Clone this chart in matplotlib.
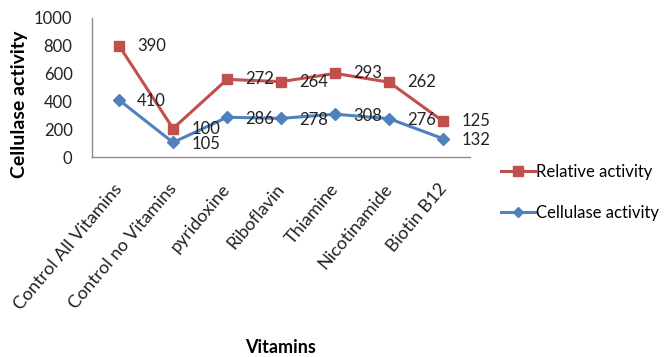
import numpy as np
import matplotlib.pyplot as plt
import matplotlib.transforms as mtransforms

# Vitamin treatments and measured activities
vitaminas = ['Control All Vitamins', 'Control no Vitamins', 'pyridoxine',
             'Riboflavin', 'Thiamine', 'Nicotinamide', 'Biotin B12']
cellulase = [410, 105, 286, 278, 308, 276, 132]
relativa = [390, 100, 272, 264, 293, 262, 125]

plt.rcParams['font.family'] = ['Lato', 'DejaVu Sans']

fig = plt.figure(figsize=(6.64, 3.57), dpi=100)
ax = fig.add_axes([0.1386, 0.560, 0.5694, 0.390])

x = np.arange(len(vitaminas))
# Stacked line chart: relative activity sits on top of cellulase activity
apilada = np.array(cellulase) + np.array(relativa)

rojo = '#C0504D'
azul = '#4F81BD'

ax.plot(x, apilada, color=rojo, lw=2.2, marker='s', ms=7.5, label='Relative activity')
ax.plot(x, cellulase, color=azul, lw=2.2, marker='D', ms=6, label='Cellulase activity')

# Value labels to the right of each point
for xi, yi, v in zip(x, apilada, relativa):
    ax.annotate(str(v), (xi, yi), xytext=(13, 0), textcoords='offset points',
                va='center', ha='left', fontsize=12, color='#222222')
for xi, yi, v in zip(x, cellulase, cellulase):
    ax.annotate(str(v), (xi, yi), xytext=(13, -1), textcoords='offset points',
                va='center', ha='left', fontsize=12, color='#222222')

ax.set_xlim(-0.5, len(vitaminas) - 0.5)
ax.set_ylim(0, 1000)
ax.set_yticks(range(0, 1001, 200))
ax.set_xticks(x)
ax.set_xticklabels(vitaminas, rotation=50, ha='right', rotation_mode='anchor',
                   fontsize=13)
ax.tick_params(axis='both', length=0, colors='#222222')
ax.tick_params(axis='y', labelsize=12, pad=14)
ax.tick_params(axis='x', pad=17)

# nudge the slanted category names a little to the left
desplazo = mtransforms.ScaledTranslation(-4 / 72, 0, fig.dpi_scale_trans)
for etiqueta in ax.get_xticklabels():
    etiqueta.set_transform(etiqueta.get_transform() + desplazo)

for lado in ['top', 'right']:
    ax.spines[lado].set_visible(False)
for lado in ['left', 'bottom']:
    ax.spines[lado].set_color('#8c8c8c')
    ax.spines[lado].set_linewidth(1.0)

ax.set_ylabel('Cellulase activity', fontsize=14, fontweight='bold')
ax.yaxis.set_label_coords(-0.17, 0.38)
fig.text(0.423, 0.027, 'Vitamins', fontsize=13, fontweight='bold',
         ha='center', va='center')

fig.legend(loc='upper left', bbox_to_anchor=(0.745, 0.56), frameon=False,
           fontsize=12, handlelength=2.0, handletextpad=0.1, labelspacing=1.5,
           borderaxespad=0, markerscale=0.9)

plt.savefig('out.png', dpi=100)
plt.close()
